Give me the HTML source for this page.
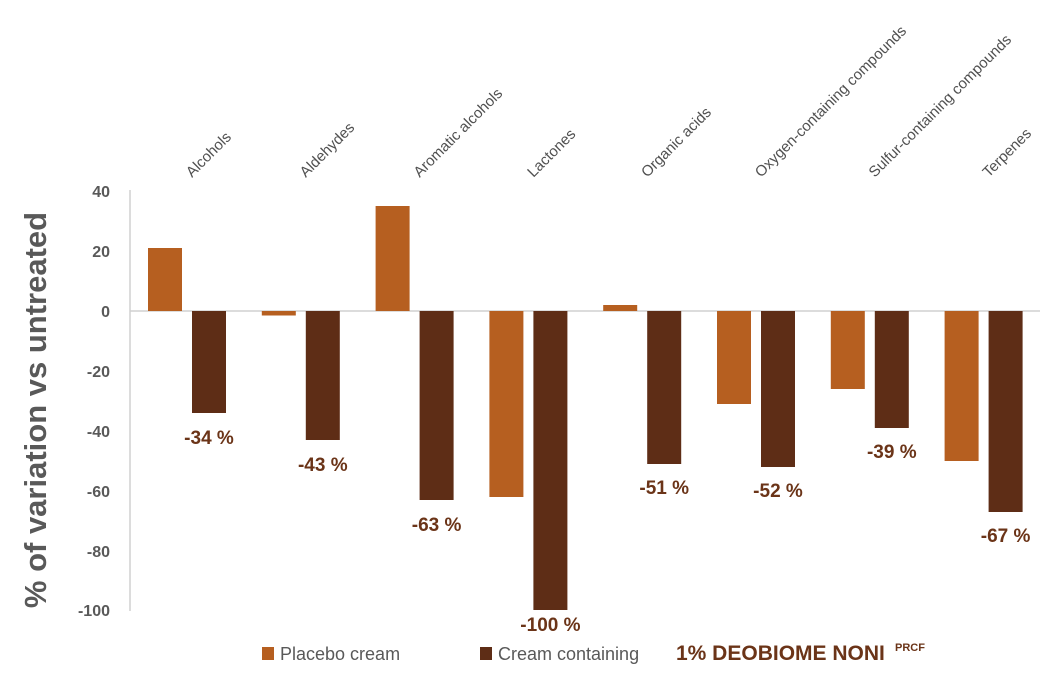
<!DOCTYPE html>
<html><head><meta charset="utf-8"><style>
body{margin:0;background:#fff;}
svg text{font-family:"Liberation Sans",sans-serif;}
</style></head><body>
<svg width="1057" height="684" xmlns="http://www.w3.org/2000/svg">
<text transform="translate(46,410) rotate(-90)" text-anchor="middle" font-size="31" font-weight="bold" fill="#595959">% of variation vs untreated</text>
<g font-size="16" font-weight="bold" fill="#595959" text-anchor="end">
<text x="110" y="197">40</text><text x="110" y="257">20</text><text x="110" y="317">0</text>
<text x="110" y="377">-20</text><text x="110" y="437">-40</text><text x="110" y="497">-60</text>
<text x="110" y="557">-80</text><text x="110" y="616">-100</text>
</g>
<line x1="130" y1="190" x2="130" y2="611" stroke="#d0d0d0" stroke-width="1.5"/>
<line x1="130" y1="311" x2="1040" y2="311" stroke="#d0d0d0" stroke-width="1.5"/>
<g fill="#b65f20">
<rect x="148" y="248" width="34" height="63"/>
<rect x="261.8" y="311" width="34" height="4.5"/>
<rect x="375.6" y="206" width="34" height="105"/>
<rect x="489.4" y="311" width="34" height="186"/>
<rect x="603.2" y="305" width="34" height="6"/>
<rect x="717" y="311" width="34" height="93"/>
<rect x="830.8" y="311" width="34" height="78"/>
<rect x="944.6" y="311" width="34" height="150"/>
</g>
<g fill="#5e2d16">
<rect x="192" y="311" width="34" height="102"/>
<rect x="305.8" y="311" width="34" height="129"/>
<rect x="419.6" y="311" width="34" height="189"/>
<rect x="533.4" y="311" width="34" height="299"/>
<rect x="647.2" y="311" width="34" height="153"/>
<rect x="761" y="311" width="34" height="156"/>
<rect x="874.8" y="311" width="34" height="117"/>
<rect x="988.6" y="311" width="34" height="201"/>
</g>
<g font-size="19" font-weight="bold" fill="#6b3418" text-anchor="middle">
<text x="209" y="444">-34 %</text>
<text x="322.8" y="471">-43 %</text>
<text x="436.6" y="531">-63 %</text>
<text x="550.4" y="631">-100 %</text>
<text x="664.2" y="494">-51 %</text>
<text x="778" y="497">-52 %</text>
<text x="891.8" y="458">-39 %</text>
<text x="1005.6" y="542">-67 %</text>
</g>
<g font-size="15" fill="#505050">
<text transform="translate(192,178) rotate(-45)">Alcohols</text>
<text transform="translate(305.8,178) rotate(-45)">Aldehydes</text>
<text transform="translate(419.6,178) rotate(-45)">Aromatic alcohols</text>
<text transform="translate(533.4,178) rotate(-45)">Lactones</text>
<text transform="translate(647.2,178) rotate(-45)">Organic acids</text>
<text transform="translate(761,178) rotate(-45)">Oxygen-containing compounds</text>
<text transform="translate(874.8,178) rotate(-45)">Sulfur-containing compounds</text>
<text transform="translate(988.6,178) rotate(-45)">Terpenes</text>
</g>
<rect x="262" y="647" width="12" height="13" fill="#b65f20"/>
<text x="280" y="660" font-size="18" fill="#595959">Placebo cream</text>
<rect x="480" y="647" width="12" height="13" fill="#5e2d16"/>
<text x="498" y="660" font-size="18" fill="#595959">Cream containing</text>
<text x="676" y="660" font-size="21" font-weight="bold" fill="#6b3418">1% DEOBIOME NONI</text>
<text x="895" y="651" font-size="11" font-weight="bold" fill="#6b3418">PRCF</text>
</svg>
</body></html>
